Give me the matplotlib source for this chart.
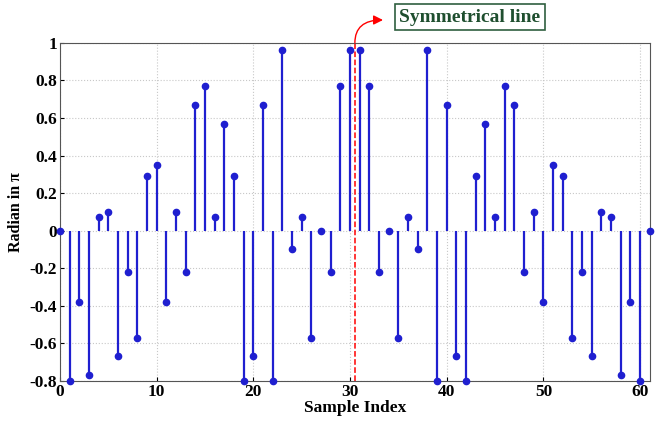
import matplotlib
matplotlib.use("Agg")
import matplotlib.pyplot as plt
from matplotlib.patches import FancyArrowPatch

sample_index = list(range(62))
radian = [0.00, -0.80, -0.38, -0.77, 0.07, 0.10, -0.67, -0.22, -0.57, 0.29,
          0.35, -0.38, 0.10, -0.22, 0.67, 0.77, 0.07, 0.57, 0.29, -0.80,
          -0.67, 0.67, -0.80, 0.96, -0.10, 0.07, -0.57, 0.00, -0.22, 0.77,
          0.96, 0.96, 0.77, -0.22, 0.00, -0.57, 0.07, -0.10, 0.96, -0.80,
          0.67, -0.67, -0.80, 0.29, 0.57, 0.07, 0.77, 0.67, -0.22, 0.10,
          -0.38, 0.35, 0.29, -0.57, -0.22, -0.67, 0.10, 0.07, -0.77, -0.38,
          -0.80, 0.00]
sym_x = 30.5
xticks = [0, 10, 20, 30, 40, 50, 60]
yticks = [-0.8, -0.6, -0.4, -0.2, 0, 0.2, 0.4, 0.6, 0.8, 1]
ytick_labels = ["-0.8", "-0.6", "-0.4", "-0.2", "0", "0.2", "0.4", "0.6", "0.8", "1"]

plt.rcParams['font.family'] = ['Liberation Serif', 'DejaVu Serif']
fig = plt.figure(figsize=(6.59, 4.25), dpi=100)
ax = fig.add_axes([0.091, 0.104, 0.895, 0.795])

blue = '#1f1fd0'
ml, sl, bl = ax.stem(sample_index, radian, linefmt='-', markerfmt='o', basefmt=' ')
plt.setp(sl, color=blue, linewidth=1.6)
plt.setp(ml, color=blue, markersize=4.5, clip_on=False, zorder=3)

ax.axvline(sym_x, color='red', linestyle='--', linewidth=1.1)

ax.set_xlim(0, 61)
ax.set_ylim(-0.8, 1)
ax.set_xticks(xticks)
ax.set_yticks(yticks)
ax.set_yticklabels(ytick_labels)
ax.grid(True, color='#c8c8c8', linestyle=':', linewidth=0.8)
for lab in ax.get_xticklabels() + ax.get_yticklabels():
    lab.set_fontweight('bold')
    lab.set_fontsize(12.5)
ax.tick_params(direction='in', length=3, pad=2)
for s in ax.spines.values():
    s.set_color('#555555')
    s.set_linewidth(0.8)

ax.set_xlabel('Sample Index', fontsize=12.5, fontweight='bold', labelpad=0)
ax.set_ylabel('Radian in π', fontsize=11.5, fontweight='bold', labelpad=4)

fig.text(470 / 659, 1 - 17 / 425, 'Symmetrical line', ha='center', va='center',
         fontsize=14, fontweight='bold', color='#1f4f2f',
         bbox=dict(boxstyle='square,pad=0.25', fc='white', ec='#2f5f3f', lw=1.2))

arrow = FancyArrowPatch(posA=(sym_x, 1.0), posB=(383 / 659, 1 - 20 / 425),
                        transform=None, arrowstyle='-|>', mutation_scale=14,
                        color='red', lw=1.0, shrinkA=0, shrinkB=0,
                        connectionstyle='angle3,angleA=90,angleB=0')
arrow.set_positions(ax.transData.transform((sym_x, 1.0)),
                    fig.transFigure.transform((383 / 659, 1 - 20 / 425)))
arrow.set_transform(matplotlib.transforms.IdentityTransform())
arrow.set_clip_on(False)
fig.add_artist(arrow)

fig.savefig('out.png', dpi=100)
